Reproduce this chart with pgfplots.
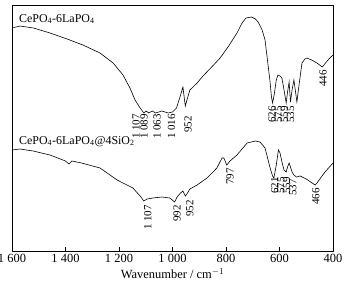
\documentclass[border=0pt]{standalone}
\usepackage{pgfplots}
\pgfplotsset{compat=1.18}
\usepackage{fontspec}
\setmainfont{Liberation Serif}
\newcommand{\ts}{\hspace{0.25em}}
\begin{document}
\begin{tikzpicture}
\begin{axis}[
  scale only axis,
  width=321bp, height=246bp,
  x dir=reverse, y dir=reverse,
  xmin=400, xmax=1600, ymin=5, ymax=251,
  xtick={400,600,800,1000,1200,1400,1600},
  xticklabels={400,600,800,1\ts000,1\ts200,1\ts400,1\ts600},
  ytick=\empty,
  tick align=inside,
  xtick pos=bottom,
  major tick length=4bp,
  axis line style={line width=0.7bp},
  every tick/.style={line width=0.6bp, black},
  /pgf/number format/assume math mode=true,
  tick label style={font=\fontsize{12.5}{14}\selectfont},
  xlabel={Wavenumber / cm$^{-1}$},
  xlabel style={font=\fontsize{12.5}{14}\selectfont, yshift=1.5bp},
  clip=false,
]
\addplot[black, line width=0.6bp] coordinates {
(1600,28) (1570,26) (1520,28) (1458,33) (1394,39) (1335,45) (1271,53) (1222,63)
(1185,75) (1159,88) (1140,100) (1121,108) (1107,113) (1098,111) (1089,113)
(1076,111) (1063,113) (1040,111) (1016,113) (1000,112) (985,108) (972,97)
(961,87) (955,100) (952,106) (946,100) (935,90) (908,83) (886,76) (850,66)
(822,58) (790,46) (759,33) (740,23) (725,18) (705,17) (690,19) (680,22)
(665,30) (654,40) (645,60) (636,80) (630,97) (626,103) (620,95) (612,80)
(606,75) (598,76) (591,78) (583,90) (575,103) (570,92) (564,82) (559,102)
(553,90) (546,80) (540,92) (535,102) (527,85) (516,63) (505,59) (497,58)
(480,60) (460,63) (440,67) (425,62) (412,58) (400,55)
};
\addplot[black, line width=0.6bp] coordinates {
(1600,150) (1570,149) (1521,151) (1458,155) (1400,161) (1387,164) (1376,161)
(1340,163) (1271,168) (1207,180) (1148,188) (1121,196) (1107,201) (1095,199)
(1073,198) (1040,197) (1010,198) (992,202) (983,197) (970,193) (961,191)
(952,196) (946,194) (935,189) (908,185) (871,178) (834,168) (815,158)
(808,158) (797,165) (785,161) (759,155) (721,143) (690,141) (673,142)
(654,148) (636,167) (626,176) (621,178) (612,165) (604,150) (598,153)
(590,163) (583,170) (575,172) (570,167) (564,163) (559,167) (553,172)
(546,175) (537,177) (523,176) (500,179) (467,185) (460,183) (430,172) (400,163)
};
\begin{scope}[every node/.style={font=\fontsize{11}{12}\selectfont, rotate=90, anchor=east, inner sep=0pt}]
\node at (axis cs:1136,114) {1\ts107};
\node at (axis cs:1106,114) {1\ts089};
\node at (axis cs:1058,114) {1\ts063};
\node at (axis cs:1004,114) {1\ts016};
\node at (axis cs:942,116) {952};
\node at (axis cs:628,106) {626};
\node at (axis cs:604,106) {575};
\node at (axis cs:582,106) {559};
\node at (axis cs:559,106) {535};
\node at (axis cs:437,70) {446};
\node at (axis cs:1092,205) {1\ts107};
\node at (axis cs:983,205) {992};
\node at (axis cs:935,200) {952};
\node at (axis cs:785,168) {797};
\node at (axis cs:618,177) {621};
\node at (axis cs:595,177) {575};
\node at (axis cs:574,177) {559};
\node at (axis cs:550,179) {537};
\node at (axis cs:464,188) {466};
\end{scope}
\node[anchor=base west, inner sep=0pt, font=\fontsize{12}{14}\selectfont] at (axis cs:1574,22) {CePO\textsubscript{4}-6LaPO\textsubscript{4}};
\node[anchor=base west, inner sep=0pt, font=\fontsize{12}{14}\selectfont] at (axis cs:1574,144) {CePO\textsubscript{4}-6LaPO\textsubscript{4}@4SiO\textsubscript{2}};
\end{axis}
\pgfresetboundingbox
\path[use as bounding box] ([shift={(-12bp,-36bp)}]current axis.south west) rectangle ([shift={(23bp,5bp)}]current axis.north east);
\end{tikzpicture}
\end{document}
